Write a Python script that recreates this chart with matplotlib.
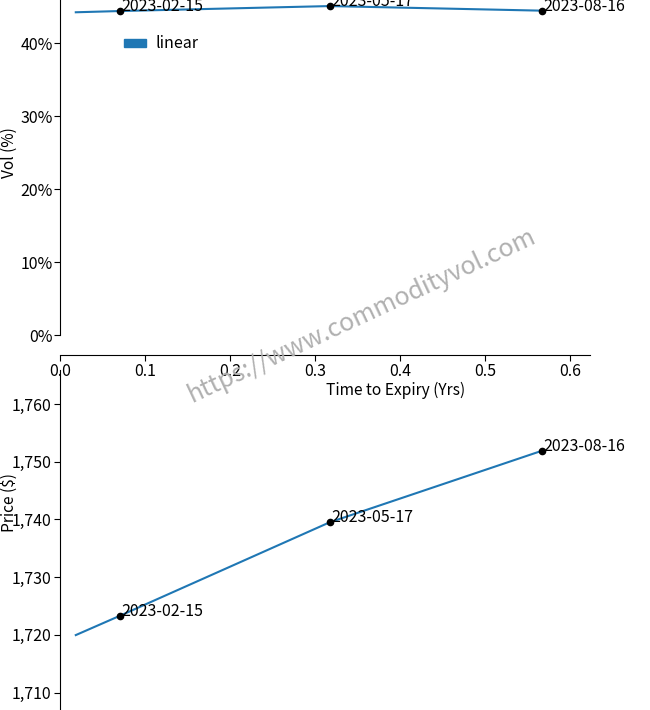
import matplotlib
matplotlib.use('Agg')
import matplotlib.pyplot as plt
from matplotlib.patches import Patch
from matplotlib.ticker import FuncFormatter, MultipleLocator

plt.rcParams['font.family'] = ['Noto Sans CJK JP', 'DejaVu Sans']

# curve
curve_t = [0.018, 0.070, 0.317, 0.567]
vol_curve = [44.25, 44.42, 45.10, 44.47]
price_curve = [1719.95, 1723.3, 1739.5, 1751.9]

# expiry points
expiry_labels = ['2023-02-15', '2023-05-17', '2023-08-16']
expiry_t = [0.070, 0.317, 0.567]
expiry_vol = [44.42, 45.10, 44.47]
expiry_price = [1723.3, 1739.5, 1751.9]

W, H = 650, 710
fig = plt.figure(figsize=(W / 100, H / 100), dpi=100)

def px(x0, y0, x1, y1):
    # pixel box (top-left origin) -> figure coords
    return [x0 / W, 1 - y1 / H, (x1 - x0) / W, (y1 - y0) / H]

blue = '#1f77b4'
tick_fs = 11.5
lab_fs = 11.2
ann_fs = 11.5

# bottom panel: price (drawn first, transparent so the top x axis shows)
ax2 = fig.add_axes(px(60.5, 370, 590, 710))
ax2.patch.set_alpha(0)
ax2.plot(curve_t, price_curve, color=blue, lw=1.5)
ax2.plot(expiry_t, expiry_price, 'o', color='k', ms=4.5)
for lab, t, p in zip(expiry_labels, expiry_t, expiry_price):
    ax2.annotate(lab, (t, p), xytext=(1, 0), textcoords='offset points',
                 va='baseline', ha='left', fontsize=ann_fs)
ax2.set_xlim(0, 0.6235)
ax2.set_ylim(1760 - (710 - 404) / 5.77, 1760 + (404 - 370) / 5.77)
ax2.yaxis.set_major_locator(MultipleLocator(10))
ax2.yaxis.set_major_formatter(FuncFormatter(lambda v, p: f'{v:,.0f}'))
ax2.set_xticks([])
for s in ['top', 'right', 'bottom']:
    ax2.spines[s].set_visible(False)
ax2.tick_params(direction='out', length=4.3, width=0.8, labelsize=tick_fs, pad=2)

# top panel: vol
ax1 = fig.add_axes(px(60.5, 0, 590, 335.3))
ax1.patch.set_alpha(0)
ax1.plot(curve_t, vol_curve, color=blue, lw=1.5, clip_on=False)
ax1.plot(expiry_t, expiry_vol, 'o', color='k', ms=4.5, clip_on=False)
for lab, t, v in zip(expiry_labels, expiry_t, expiry_vol):
    ax1.annotate(lab, (t, v), xytext=(1, 0), textcoords='offset points',
                 va='baseline', ha='left', fontsize=ann_fs, annotation_clip=False)
ax1.set_xlim(0, 0.6235)
ax1.set_ylim(0, 335.3 / 7.3)
ax1.yaxis.set_major_locator(MultipleLocator(10))
ax1.yaxis.set_major_formatter(FuncFormatter(lambda v, p: f'{v:.0f}%'))
ax1.xaxis.set_major_locator(MultipleLocator(0.1))
ax1.xaxis.set_major_formatter(FuncFormatter(lambda v, p: f'{v:.1f}'))
ax1.spines['top'].set_visible(False)
ax1.spines['right'].set_visible(False)
ax1.spines['bottom'].set_position(('outward', 14.4))
ax1.tick_params(direction='out', length=4.3, width=0.8, labelsize=tick_fs, pad=1)
ax1.legend(handles=[Patch(color=blue, label='linear')], loc='center left',
           bbox_to_anchor=(124 / W, 1 - 44 / H), bbox_transform=fig.transFigure,
           frameon=False, fontsize=ann_fs, handlelength=1.4, handleheight=0.45,
           handletextpad=0.55, borderpad=0, borderaxespad=0)

fig.text(396 / W, 1 - 390 / H, 'Time to Expiry (Yrs)', ha='center', va='center', fontsize=lab_fs)
fig.text(9 / W, 1 - 153 / H, 'Vol (%)', rotation=90, ha='center', va='center', fontsize=lab_fs)
fig.text(9 / W, 1 - 503 / H, 'Price ($)', rotation=90, ha='center', va='center', fontsize=lab_fs)

fig.text(362 / W, 1 - 316 / H, 'https://www.commodityvol.com', rotation=25,
         ha='center', va='center', fontsize=18, color='#b0b0b0', zorder=10)

fig.savefig('out.png', dpi=100)
